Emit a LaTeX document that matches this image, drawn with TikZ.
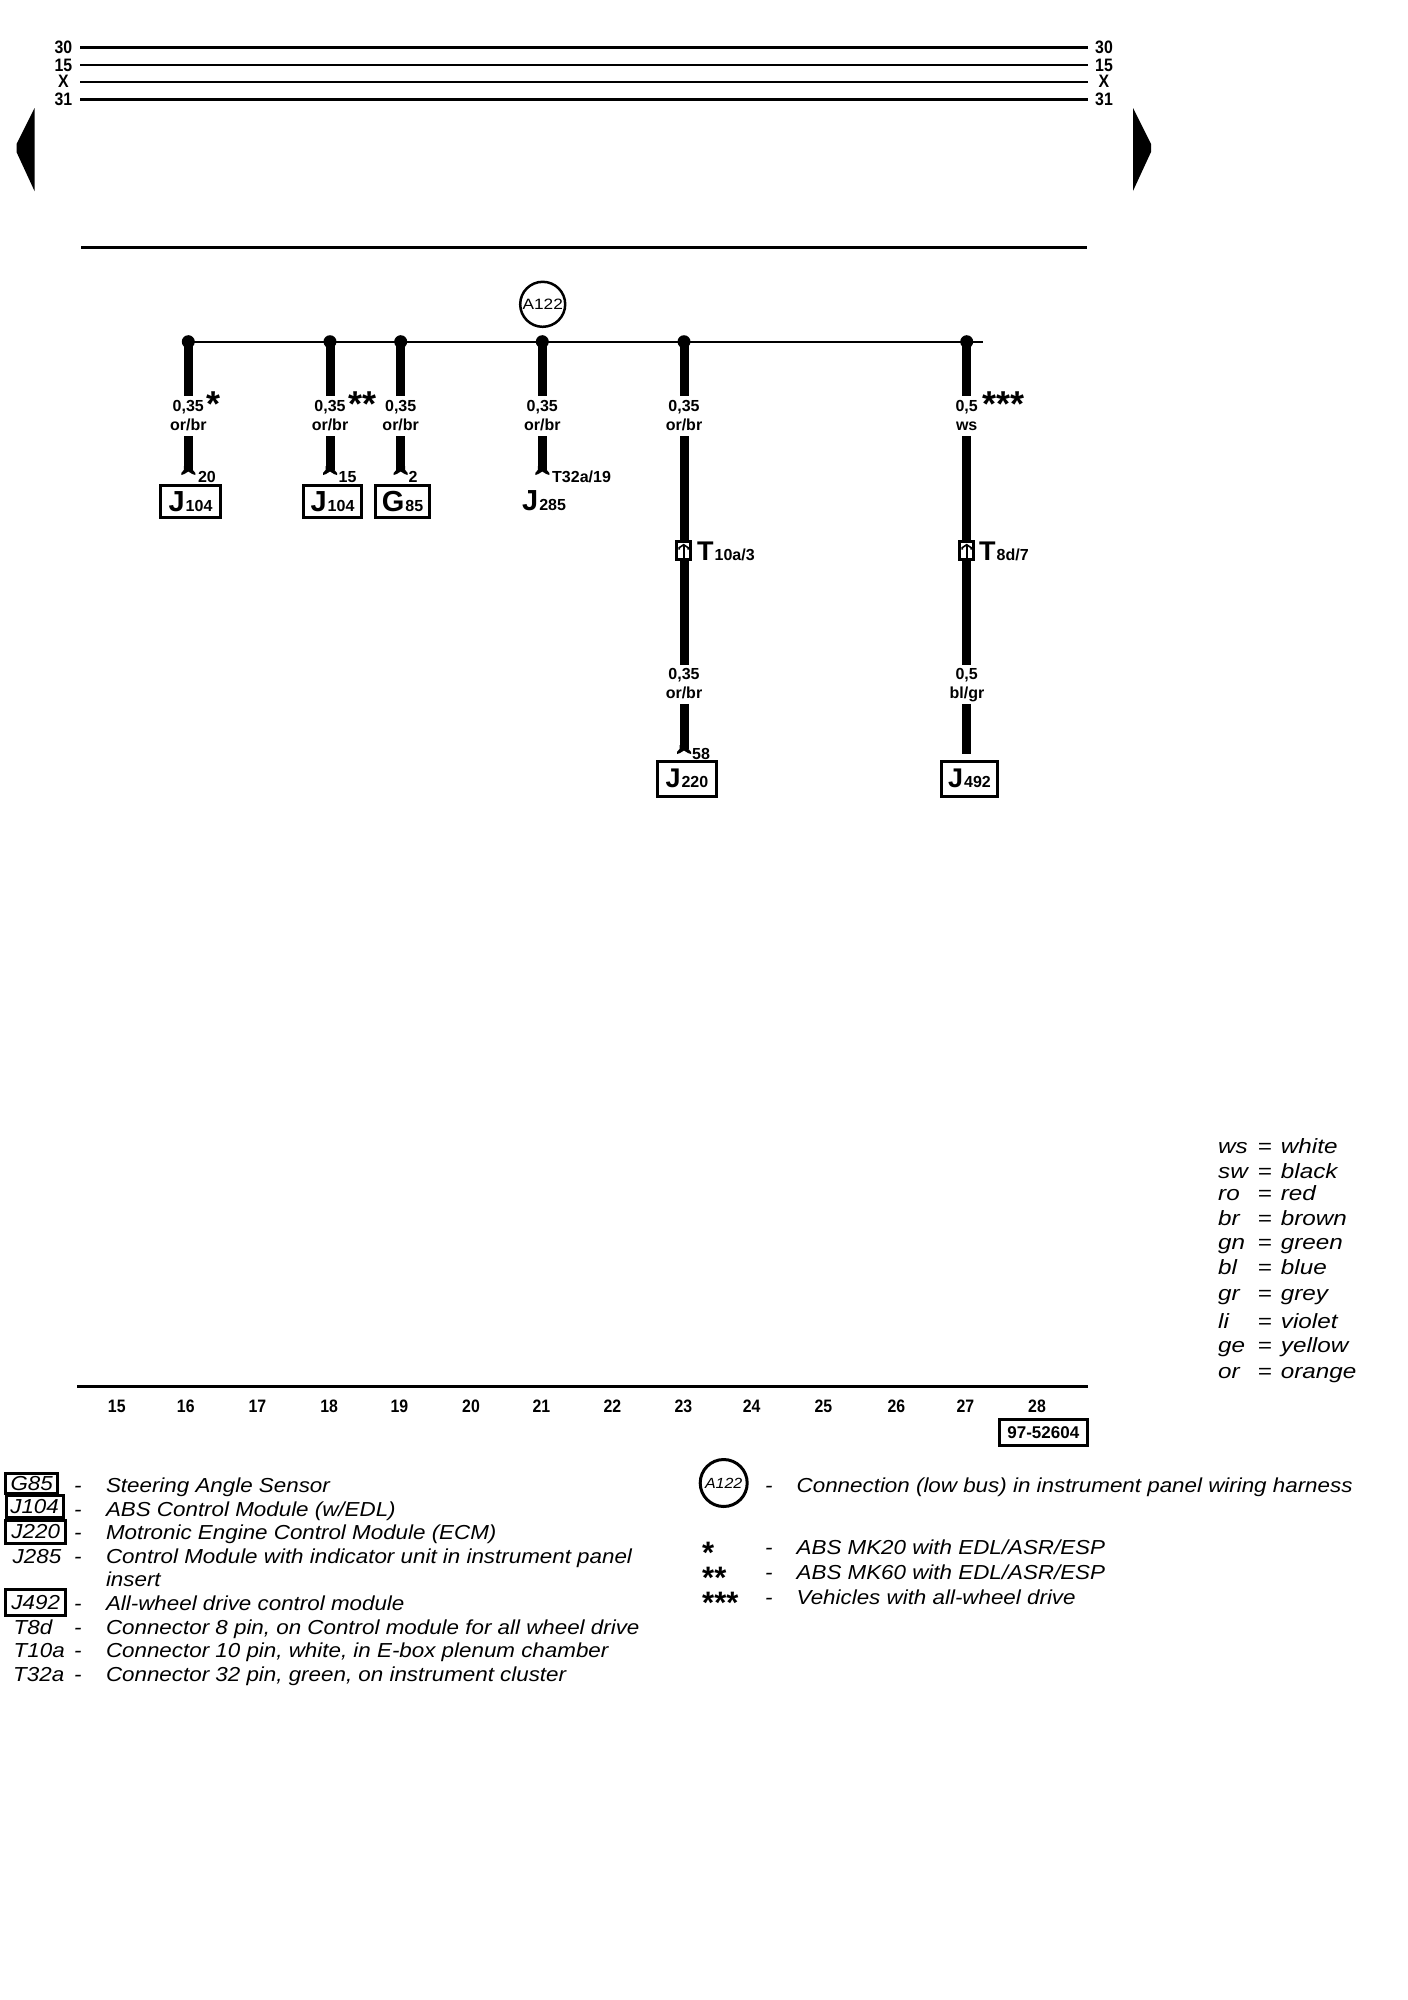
\documentclass[tikz,border=0pt]{standalone}
\usepackage{fontspec}
\usetikzlibrary{calc}
\setmainfont{Liberation Sans}
\newcommand{\sz}[1]{\fontsize{#1}{#1}\selectfont}
\newcommand{\cond}[1]{\scalebox{.88}[1]{\sz{18}\bfseries #1}}
\newcommand{\wl}{\sz{16}\bfseries}
\newcommand{\leg}[1]{\scalebox{1.017}[.92]{\sz{22}\itshape #1}}
\newcommand{\colr}[1]{\scalebox{1.01}[.86]{\sz{24}\itshape #1}}
\newcommand{\bigsub}[3]{{\sz{#3}\bfseries #1}\kern1pt{\sz{16}\bfseries #2}}
\newcommand{\stars}{\sz{36}\bfseries}
\newcommand{\lstars}{\sz{31}\bfseries}
\tikzset{
  x=1pt,y=-1pt,
  busline/.style={line width=2pt},
  rail/.style={line width=3pt},
  railthin/.style={line width=2pt},
  wire/.style={line width=9pt},
  dotnode/.style={circle,fill=black,inner sep=0pt,minimum size=13pt},
  wlab/.style={anchor=base,inner xsep=0pt,inner ysep=4pt,text height=11pt,text depth=1.5pt,font=\wl},
  pin/.style={anchor=base,inner sep=0pt,font=\wl},
  cbox/.style={draw,line width=3pt,inner sep=0pt,anchor=center},
  conn/.style={draw,fill=white,line width=3pt,inner sep=0pt,minimum width=14pt,minimum height=18pt},
  lbox/.style={draw,line width=3pt,inner sep=0pt,anchor=center},
  ltext/.style={anchor=base west,inner sep=0pt},
  wireend/.pic={\fill (-4.5,-4)--(-4.5,0)--(-7,3)--(-7,5)--(-4,4)--(0,1.5)--(4,4)--(7,5)--(7,3)--(4.5,0)--(4.5,-4)--cycle;},
  connmark/.pic={\draw[line width=1.6pt] (0,-5)--(0,8); \draw[line width=1.6pt] (-4.5,-1)--(-4.5,-3)--(0,-6)--(4.5,-3)--(4.5,-1);}
}
\begin{document}
\begin{tikzpicture}
\useasboundingbox (0,0) rectangle (1408,2000);
\fill[white] (0,0) rectangle (1408,2000);
% rails
\foreach \n/\t/\y/\s in {a/30/47.3/rail,b/15/65/railthin,c/X/81.7/railthin,d/31/99.3/rail}{
  \node[inner sep=0pt] (rl\n) at (63.5,\y) {\cond{\t}};
  \node[inner sep=0pt] (rr\n) at (1104,\y) {\cond{\t}};
  \coordinate (pl\n) at (80,\y);
  \coordinate (pr\n) at (1088,\y);
  \draw[\s] (pl\n) -- (pr\n);
}
\coordinate (sepL) at (81,247); \coordinate (sepR) at (1087,247);
\draw[rail] (sepL) -- (sepR);
\fill (34.5,108)--(16.5,144)--(16.5,152)--(34.5,191)--cycle;
\fill (1133,108)--(1151,144)--(1151,152)--(1133,191)--cycle;
% A122
\node[draw,circle,line width=2.5pt,minimum size=45pt,inner sep=0pt] (a122) at (542.7,304.3) {\scalebox{1.15}[1]{\sz{15}A122}};
% bus
\node[dotnode] (d1) at (188.3,341.7) {};
\node[dotnode] (d2) at (330,341.7) {};
\node[dotnode] (d3) at (400.7,341.7) {};
\node[dotnode] (d4) at (542.3,341.7) {};
\node[dotnode] (d5) at (684,341.7) {};
\node[dotnode] (d6) at (966.7,341.7) {};
\coordinate (busend) at (982.7,341.7);
\draw[busline] (d1.center) -- (busend);
% short branches
\foreach \i/\t in {1/{0,35},2/{0,35},3/{0,35},4/{0,35}}{
  \node[wlab] (la\i) at ($(d\i.center)+(0,69.8)$) {\t};
  \node[wlab] (lb\i) at ($(d\i.center)+(0,89)$) {or/br};
  \coordinate (e\i) at ($(d\i.center)+(0,128.3)$);
  \draw[wire] (d\i.center) -- (d\i.center |- la\i.north);
  \draw[wire] (d\i.center |- lb\i.south) -- (e\i);
  \pic at (e\i) {wireend};
}
% long branches
\node[wlab] (la5) at (684,411.5) {0,35};
\node[wlab] (lb5) at (684,430.7) {or/br};
\node[conn] (t5) at (683.7,550.7) {};
\pic at (t5) {connmark};
\node[wlab] (lc5) at (684,679.8) {0,35};
\node[wlab] (ld5) at (684,698.2) {or/br};
\coordinate (e5) at (684,749);
\draw[wire] (d5.center) -- (d5.center |- la5.north);
\draw[wire] (d5.center |- lb5.south) -- (d5.center |- t5.north);
\draw[wire] (d5.center |- t5.south) -- (d5.center |- lc5.north);
\draw[wire] (d5.center |- ld5.south) -- (e5);
\pic at (e5) {wireend};
\node[wlab] (la6) at (966.7,411.5) {0,5};
\node[wlab] (lb6) at (966.7,430.7) {ws};
\node[conn] (t6) at (966.7,550.7) {};
\pic at (t6) {connmark};
\node[wlab] (lc6) at (966.7,679.8) {0,5};
\node[wlab] (ld6) at (967,698.2) {bl/gr};
\coordinate (e6) at (966.7,754);
\draw[wire] (d6.center) -- (d6.center |- la6.north);
\draw[wire] (d6.center |- lb6.south) -- (t6.north);
\draw[wire] (t6.south) -- (d6.center |- lc6.north);
\draw[wire] (d6.center |- ld6.south) -- (e6);
% connector labels
\node[anchor=base west,inner sep=0pt] (tl5) at (697,560.7) {\bigsub{T}{10a/3}{27}};
\node[anchor=base west,inner sep=0pt] (tl6) at (979,560.7) {\bigsub{T}{8d/7}{27}};
% pins
\node[pin] (p1) at (207,482) {20};
\node[pin] (p2) at (347.5,482) {15};
\node[pin] (p3) at (413,482) {2};
\node[pin,anchor=base west] (p4) at (552,482) {T32a/19};
\node[pin] (p5) at (701,759) {58};
% stars
\node[anchor=base,inner sep=0pt,font=\stars] (s1) at (214,416) {*};
\node[anchor=base,inner sep=0pt,font=\stars] (s2) at (362.5,416) {**};
\node[anchor=base,inner sep=0pt,font=\stars] (s3) at (1003.5,416) {***};
% boxes
\node[cbox,minimum width=59.4pt,minimum height=32pt] (j104a) at (190.5,501.5) {\bigsub{J}{104}{29}};
\node[cbox,minimum width=57.4pt,minimum height=32pt] (j104b) at (332.5,501.5) {\bigsub{J}{104}{29}};
\node[cbox,minimum width=53.4pt,minimum height=32pt] (g85) at (402.5,501.5) {\bigsub{G}{85}{29}};
\node[anchor=base west,inner sep=0pt] (j285) at (522,510.7) {\bigsub{J}{285}{29}};
\node[cbox,minimum width=58.7pt,minimum height=34.7pt] (j220) at (686.9,778.8) {\bigsub{J}{220}{27}};
\node[cbox,minimum width=56pt,minimum height=34.7pt] (j492) at (969.5,778.8) {\bigsub{J}{492}{27}};
% bottom rule
\coordinate (rulL) at (77,1386); \coordinate (rulR) at (1088,1386);
\draw[rail] (rulL) -- (rulR);
\foreach \t/\x in {15/116.8,16/185.8,17/257.4,18/329.1,19/399.4,20/471,21/541.4,22/612.4,23/683.4,24/751.7,25/823.4,26/896.4,27/965.3,28/1037}{
  \node[inner sep=0pt] (col\t) at (\x,1406) {\cond{\t}};
}
\node[draw,line width=3pt,inner sep=0pt,minimum width=87.5pt,minimum height=25.7pt,font=\sz{17}\bfseries] (doc) at (1043.3,1432.4) {97-52604};
% colour legend
\foreach \n/\a/\b/\y in {1/ws/white/1153.3,2/sw/black/1178.3,3/ro/red/1200,4/br/brown/1225,5/gn/green/1249,6/bl/blue/1274,7/gr/grey/1300,8/li/violet/1328.3,9/ge/yellow/1352.7,10/or/orange/1378}{
  \node[ltext] (ca\n) at (1218,\y) {\colr{\a}};
  \node[ltext] (ce\n) at (1257.5,\y) {\colr{=}};
  \node[ltext] (cb\n) at (1280.7,\y) {\colr{\b}};
}
% left legend
\node[lbox,minimum width=51.5pt,minimum height=20pt] (lg1) at (31.7,1483.3) {\leg{G85}};
\node[lbox,minimum width=57.2pt,minimum height=22pt] (lg2) at (34.6,1506.5) {\leg{J104}};
\node[lbox,minimum width=59.5pt,minimum height=23pt] (lg3) at (35.7,1532) {\leg{J220}};
\node[lbox,minimum width=59.5pt,minimum height=26pt] (lg5) at (35.7,1602.5) {\leg{J492}};
\node[ltext] (lg4) at (12.5,1563.3) {\leg{J285}};
\node[ltext] (lg6) at (13.5,1634) {\leg{T8d}};
\node[ltext] (lg7) at (13.5,1657.3) {\leg{T10a}};
\node[ltext] (lg8) at (13,1681.7) {\leg{T32a}};
\foreach \n/\y/\t in {1/1492.7/{Steering Angle Sensor},2/1516/{ABS Control Module (w/EDL)},3/1539.3/{Motronic Engine Control Module (ECM)},4/1563.3/{Control Module with indicator unit in instrument panel},x/1586/{insert},5/1610.7/{All-wheel drive control module},6/1634/{Connector 8 pin, on Control module for all wheel drive},7/1657.3/{Connector 10 pin, white, in E-box plenum chamber},8/1681.7/{Connector 32 pin, green, on instrument cluster}}{
  \node[ltext] (lt\n) at (105.8,\y) {\leg{\t}};
}
\foreach \n/\y in {1/1492.7,2/1516,3/1539.3,4/1563.3,5/1610.7,6/1634,7/1657.3,8/1681.7}{
  \node[ltext] (ld\n) at (74,\y) {\leg{-}};
}
% right legend
\node[draw,circle,line width=3pt,minimum size=47pt,inner sep=0pt] (ra) at (723.7,1483) {\scalebox{1}[.92]{\sz{16}\itshape A122}};
\foreach \n/\y/\t in {a/1492.3/{Connection (low bus) in instrument panel wiring harness},b/1554/{ABS MK20 with EDL/ASR/ESP},c/1579/{ABS MK60 with EDL/ASR/ESP},d/1604/{Vehicles with all-wheel drive}}{
  \node[ltext] (rt\n) at (796.5,\y) {\leg{\t}};
  \node[ltext] (rd\n) at (765,\y) {\leg{-}};
}
\node[ltext,font=\lstars] (rs1) at (702,1563) {*};
\node[ltext,font=\lstars] (rs2) at (702,1588) {**};
\node[ltext,font=\lstars] (rs3) at (702,1613) {***};
\end{tikzpicture}
\end{document}
